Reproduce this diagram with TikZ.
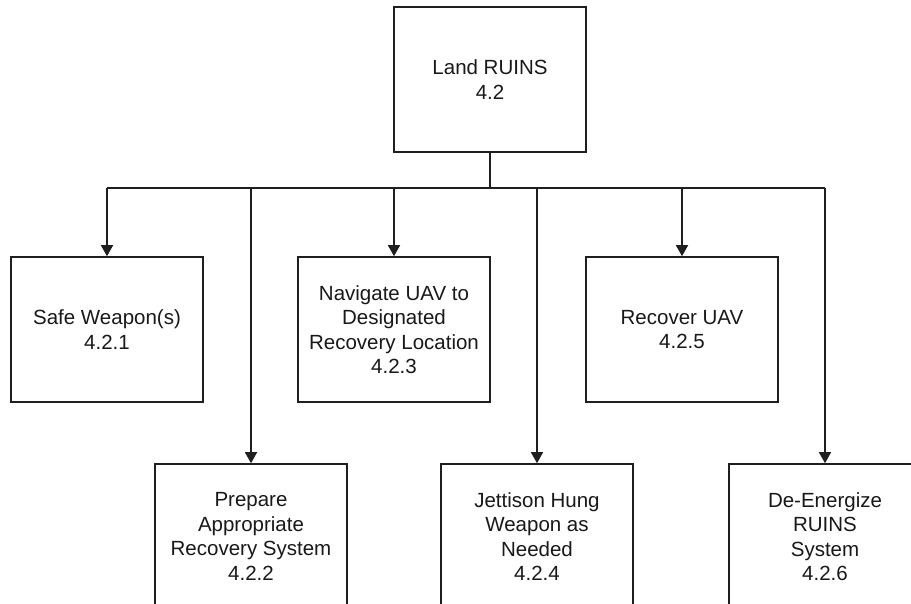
\documentclass[tikz,border=0pt]{standalone}
\usepackage{fontspec}
\setmainfont{Liberation Sans}
\usetikzlibrary{arrows.meta}
\begin{document}
\begin{tikzpicture}[x=1pt,y=-1pt,
  taskbox/.style={draw=black!88, line width=1.6pt, fill=white,
    minimum width=192pt, minimum height=145pt, inner sep=0pt,
    align=center, text=black!90,
    font=\fontsize{20.5}{24.5}\selectfont},
  link/.style={draw=black!88, line width=1.6pt},
  drop/.style={link, -{Triangle[width=12pt,length=11pt]}}]
\useasboundingbox (0,0) rectangle (911,604);
\clip (0,0) rectangle (911,604);
\fill[white] (0,0) rectangle (911,604);

% parent function
\node[taskbox] (land) at (490,79.5) {Land RUINS\\4.2};

% first row of sub-functions
\node[taskbox] (safe) at (107,329.5) {Safe Weapon(s)\\4.2.1};
\node[taskbox] (nav)  at (394,329.5) {Navigate UAV to\\Designated\\Recovery Location\\4.2.3};
\node[taskbox] (rec)  at (682,329.5) {Recover UAV\\4.2.5};

% second row of sub-functions
\node[taskbox] (prep) at (251,536.5) {Prepare\\Appropriate\\Recovery System\\4.2.2};
\node[taskbox] (jett) at (537,536.5) {Jettison Hung\\Weapon as\\Needed\\4.2.4};
\node[taskbox] (deen) at (825,536.5) {De-Energize\\RUINS\\System\\4.2.6};

% distribution bus
\coordinate (bus) at (0,188);
\draw[link] (land.south) -- (land.south |- bus);
\draw[link] (safe.north |- bus) -- (deen.north |- bus);

% drops to each sub-function
\foreach \n in {safe,prep,nav,jett,rec,deen}
  \draw[drop] (\n.north |- bus) -- (\n.north);
\end{tikzpicture}
\end{document}
